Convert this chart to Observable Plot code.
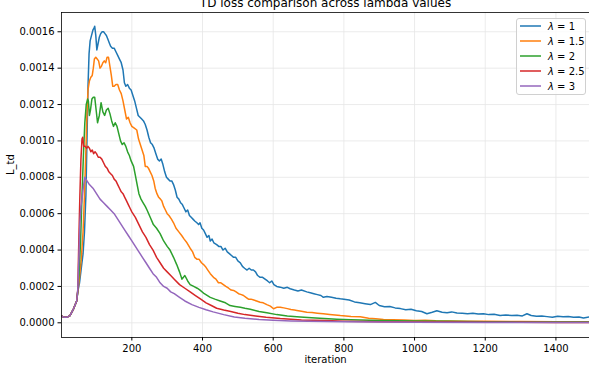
<!DOCTYPE html>
<html>
<head>
<meta charset="utf-8">
<script src="https://cdn.jsdelivr.net/npm/d3@7"></script>
<script src="https://cdn.jsdelivr.net/npm/@observablehq/plot@0.6"></script>
<style>
  html, body { margin: 0; padding: 0; background: #fff; }
  #wrap { position: relative; width: 589px; height: 378px; overflow: hidden; font-family: "DejaVu Sans", sans-serif; }
  #legend { position: absolute; left: 516px; top: 18px; width: 70px; height: 77px; box-sizing: border-box;
    border: 1px solid #d0d0d0; border-radius: 3px; background: rgba(255,255,255,0.8); font-size: 10px; color: #000; }
  .item { position: absolute; left: 3px; height: 12px; display: flex; align-items: center; white-space: nowrap; }
  .swatch { flex: 0 0 21px; width: 21px; height: 4px; margin-right: 7px; display: block; }
  .lam { font-style: italic; }
</style>
</head>
<body>
<div id="wrap"><div id="legend"></div></div>
<script>
const titleText = "TD loss comparison across lambda values";
const xLabel = "iteration";
const yLabel = "L_td";
const lambdas = ["1", "1.5", "2", "2.5", "3"];
const colors = ["#1f77b4", "#ff7f0e", "#2ca02c", "#d62728", "#9467bd"];
const xTicks = [200, 400, 600, 800, 1000, 1200, 1400];
const yTicks = [0, 0.0002, 0.0004, 0.0006, 0.0008, 0.001, 0.0012, 0.0014, 0.0016];

// shared warm-up segment (identical for all runs)
const startPoints = [[2,0.000036],[8,0.000031],[16,0.00003],[25,0.00004],[35,0.000077],[44,0.00012]];

const lambda1 = [[47,0.00017],[52,0.00022],[57,0.0003],[62,0.00038],[66,0.0005],[70,0.0007],[73,0.001],[76,0.0013],[79,0.00148],[82,0.00155],[86,0.00158],[90,0.00161],[93,0.00162],[95,0.00163],[98,0.00158],[101,0.0015],[104,0.00153],[108,0.00157],[112,0.00159],[116,0.0016],[120,0.0016],[124,0.00159],[128,0.00158],[132,0.00156],[136,0.00154],[140,0.00152],[145,0.00151],[150,0.00151],[155,0.00149],[160,0.00147],[165,0.00145],[170,0.00143],[175,0.00139],[179,0.00132],[183,0.0013],[188,0.00131],[193,0.00129],[198,0.00128],[203,0.00125],[208,0.00122],[213,0.00118],[218,0.00114],[223,0.00113],[228,0.00112],[233,0.00111],[238,0.00109],[243,0.00106],[248,0.00102],[253,0.00099],[258,0.00098],[263,0.00096],[268,0.00093],[273,0.0009],[278,0.00089],[283,0.0009],[288,0.00087],[293,0.00083],[298,0.0008],[303,0.00079],[308,0.00078],[313,0.00078],[318,0.00076],[323,0.00073],[328,0.00069],[333,0.00068],[338,0.00066],[343,0.00065],[348,0.00063],[353,0.00061],[358,0.00062],[363,0.00059],[368,0.00058],[373,0.00057],[378,0.00056],[384,0.00055],[389,0.00054],[393,0.00055],[398,0.00052],[403,0.00051],[408,0.00049],[413,0.00047],[418,0.00048],[422,0.00045],[427,0.00046],[432,0.00044],[440,0.00043],[446,0.00042],[452,0.00042],[458,0.0004],[464,0.00041],[470,0.00039],[476,0.00038],[482,0.00037],[488,0.00036],[494,0.00036],[500,0.00034],[507,0.00033],[513,0.00031],[519,0.0003],[526,0.00029],[532,0.0003],[538,0.00029],[544,0.00029],[550,0.00028],[556,0.00026],[563,0.00025],[570,0.00025],[577,0.00024],[584,0.00023],[590,0.00022],[596,0.00023],[602,0.00021],[610,0.0002],[620,0.000196],[630,0.00019],[640,0.000195],[648,0.000187],[660,0.00018],[670,0.000175],[680,0.00018],[695,0.00017],[705,0.000165],[715,0.00016],[725,0.000155],[735,0.00015],[742,0.00014],[752,0.000145],[765,0.00014],[778,0.000135],[790,0.000132],[800,0.00013],[815,0.000125],[830,0.000115],[845,0.00011],[860,0.000105],[875,0.0001],[889,0.000112],[900,0.000095],[915,0.000088],[930,0.00009],[945,0.000082],[960,0.000078],[975,0.000072],[990,0.000075],[1005,0.000066],[1020,0.000062],[1035,0.00005],[1050,0.000058],[1063,0.000066],[1078,0.000058],[1092,0.000055],[1105,0.00006],[1120,0.000054],[1135,0.000052],[1150,0.00005],[1165,0.000053],[1180,0.000048],[1195,0.00005],[1210,0.000045],[1225,0.000047],[1242,0.00004],[1258,0.000043],[1275,0.00004],[1290,0.000042],[1305,0.000038],[1318,0.00005],[1330,0.00004],[1345,0.000036],[1360,0.000038],[1375,0.000034],[1390,0.00003],[1405,0.000036],[1420,0.000033],[1435,0.000035],[1450,0.00003],[1465,0.000032],[1478,0.000027],[1495,0.000033]];

const lambda15 = [[47,0.00017],[52,0.00025],[57,0.00035],[62,0.0005],[66,0.0007],[70,0.00095],[73,0.00115],[76,0.00128],[80,0.00133],[84,0.00135],[88,0.00136],[91,0.0014],[94,0.00145],[98,0.00146],[102,0.00145],[106,0.00144],[110,0.0014],[114,0.00141],[118,0.00143],[122,0.00144],[126,0.00143],[130,0.00146],[134,0.00146],[138,0.00141],[142,0.00136],[146,0.0013],[150,0.0013],[155,0.00131],[160,0.00131],[165,0.00128],[170,0.00126],[175,0.00122],[180,0.00117],[185,0.00112],[190,0.00113],[195,0.0011],[200,0.00108],[207,0.00107],[214,0.00106],[219,0.00101],[224,0.00098],[229,0.00095],[234,0.00092],[238,0.00086],[243,0.00086],[247,0.00085],[252,0.00083],[257,0.00081],[262,0.00078],[266,0.00074],[271,0.00071],[276,0.00069],[281,0.00068],[285,0.00067],[290,0.00064],[295,0.00062],[300,0.0006],[305,0.00059],[312,0.00057],[318,0.00055],[325,0.00052],[333,0.0005],[341,0.00048],[348,0.00046],[356,0.00044],[365,0.00041],[372,0.00039],[378,0.00036],[384,0.00035],[390,0.00035],[397,0.00033],[403,0.00032],[408,0.00031],[415,0.00029],[422,0.00027],[431,0.00025],[438,0.00024],[445,0.00022],[452,0.00022],[459,0.00021],[466,0.0002],[474,0.00019],[481,0.00018],[488,0.000178],[495,0.00017],[502,0.00016],[510,0.000155],[516,0.00015],[523,0.00014],[530,0.00013],[537,0.00013],[545,0.000125],[553,0.00012],[563,0.000113],[572,0.00011],[582,0.0001],[592,0.000092],[601,0.000077],[610,0.000085],[620,0.000086],[630,0.000082],[640,0.000078],[650,0.000073],[660,0.00007],[667,0.000068],[680,0.000064],[695,0.000058],[710,0.000056],[725,0.000053],[742,0.00005],[760,0.000046],[775,0.000043],[790,0.00004],[805,0.000038],[820,0.000035],[846,0.000033],[870,0.000025],[890,0.000022],[912,0.000018],[940,0.000017],[970,0.000015],[1000,0.000013],[1030,0.000014],[1060,0.000011],[1100,0.00001],[1150,0.000009],[1200,0.000008],[1300,0.000007],[1400,0.000006],[1495,0.000006]];

const lambda2 = [[47,0.00017],[51,0.00028],[55,0.00045],[59,0.0007],[63,0.00092],[67,0.0011],[71,0.0012],[75,0.00123],[77,0.00122],[80,0.00114],[83,0.00117],[87,0.00123],[91,0.00124],[95,0.00124],[99,0.00117],[103,0.0011],[108,0.00114],[113,0.00121],[118,0.00116],[123,0.00114],[128,0.00117],[133,0.00118],[138,0.00115],[143,0.00111],[148,0.00108],[153,0.0011],[158,0.00108],[163,0.00104],[168,0.001],[173,0.00098],[178,0.00099],[183,0.00097],[188,0.00094],[193,0.00092],[198,0.00089],[205,0.00086],[210,0.00081],[215,0.00076],[220,0.00071],[226,0.00068],[232,0.00066],[238,0.00064],[243,0.00062],[252,0.00058],[261,0.00054],[270,0.00052],[280,0.00049],[290,0.00045],[300,0.00042],[308,0.0004],[318,0.00036],[327,0.00032],[335,0.00028],[342,0.00024],[350,0.00026],[358,0.00023],[365,0.00021],[375,0.0002],[385,0.00019],[393,0.00018],[405,0.00016],[422,0.00014],[435,0.00013],[450,0.00012],[465,0.00011],[478,0.000095],[492,0.00009],[507,0.000085],[520,0.00008],[535,0.000075],[560,0.000062],[582,0.000055],[610,0.000045],[640,0.000038],[676,0.000032],[720,0.000026],[780,0.00002],[820,0.000017],[900,0.000013],[1000,0.00001],[1100,0.000008],[1200,0.000006],[1300,0.000005],[1495,0.000004]];

const lambda25 = [[47,0.00018],[50,0.00045],[53,0.0007],[56,0.0009],[59,0.00101],[61,0.00102],[64,0.00097],[68,0.00097],[72,0.00096],[76,0.00097],[80,0.00096],[84,0.00094],[88,0.00095],[92,0.00093],[96,0.00094],[100,0.00093],[105,0.00091],[110,0.00091],[115,0.0009],[120,0.00088],[125,0.00086],[130,0.00085],[135,0.00083],[140,0.00082],[145,0.00081],[150,0.00079],[155,0.00078],[160,0.00076],[165,0.00074],[170,0.00072],[175,0.00071],[180,0.00069],[185,0.00067],[190,0.00065],[195,0.00063],[200,0.00061],[210,0.00058],[220,0.00054],[230,0.0005],[240,0.00047],[250,0.00043],[260,0.0004],[270,0.00036],[280,0.00033],[290,0.0003],[300,0.00028],[310,0.00026],[320,0.00024],[335,0.00021],[350,0.00019],[365,0.00017],[380,0.00015],[395,0.00013],[410,0.00011],[425,0.000095],[440,0.00008],[460,0.00007],[480,0.000062],[500,0.000052],[520,0.000045],[550,0.000037],[580,0.00003],[620,0.000023],[680,0.000016],[750,0.000012],[800,0.000009],[900,0.000006],[1000,0.000005],[1100,0.000004],[1200,0.000003],[1300,0.000003],[1400,0.000002],[1495,0.000002]];

const lambda3 = [[47,0.00018],[50,0.00035],[53,0.00055],[56,0.00064],[59,0.00068],[63,0.00075],[67,0.0008],[70,0.00079],[80,0.00076],[90,0.00074],[100,0.00071],[110,0.00068],[120,0.00066],[130,0.00064],[140,0.00062],[150,0.0006],[160,0.00057],[170,0.00054],[180,0.00051],[190,0.00048],[200,0.00045],[210,0.00042],[220,0.00039],[230,0.00036],[240,0.00033],[250,0.0003],[260,0.00027],[270,0.00025],[280,0.00022],[290,0.0002],[300,0.00019],[310,0.00017],[320,0.00016],[335,0.00014],[350,0.00012],[370,0.0001],[390,0.000085],[410,0.000072],[430,0.00006],[460,0.000045],[490,0.000032],[520,0.000025],[560,0.000018],[600,0.000014],[650,0.00001],[700,0.000008],[800,0.000006],[900,0.000004],[1000,0.000003],[1200,0.000002],[1495,0.000002]];

const seriesPoints = [lambda1, lambda15, lambda2, lambda25, lambda3];
const rows = [];
seriesPoints.forEach((pts, i) => {
  startPoints.concat(pts).forEach(([it, v]) => rows.push({iteration: it, loss: v, lambda: lambdas[i]}));
});

const chart = Plot.plot({
  width: 589,
  height: 378,
  marginLeft: 61,
  marginRight: 0,
  marginTop: 12,
  marginBottom: 41,
  style: {fontFamily: "DejaVu Sans, sans-serif", fontSize: "10px", color: "#000", background: "#fff", overflow: "visible"},
  x: {domain: [1, 1495]},
  y: {domain: [-0.0000808, 0.001706]},
  color: {domain: lambdas, range: colors},
  marks: [
    Plot.gridX(xTicks, {stroke: "#e6e6e6", strokeOpacity: 1, strokeWidth: 0.8}),
    Plot.gridY(yTicks, {stroke: "#e6e6e6", strokeOpacity: 1, strokeWidth: 0.8}),
    Plot.line(rows, {x: "iteration", y: "loss", z: "lambda", stroke: "lambda", strokeWidth: 1.5, clip: true}),
    Plot.ruleX([1], {stroke: "#000", strokeWidth: 0.8}),
    Plot.ruleY([-0.0000808, 0.001706], {stroke: "#000", strokeWidth: 0.8}),
    Plot.axisX(xTicks, {tickSize: 3.5, tickPadding: 3.5, label: null, fontSize: 10, tickFormat: d3.format("d")}),
    Plot.axisY(yTicks, {tickSize: 3.5, tickPadding: 3.5, label: null, tickFormat: d3.format(".4f"), fontSize: 10}),
    Plot.text([xLabel], {frameAnchor: "bottom", dy: 25, fontSize: 10}),
    Plot.text([yLabel], {frameAnchor: "left", dx: -51, rotate: -90, fontSize: 10}),
    Plot.text([titleText], {frameAnchor: "top", dy: -14, fontSize: 12})
  ]
});
document.getElementById("wrap").prepend(chart);

const legend = document.getElementById("legend");
lambdas.forEach((l, i) => {
  const item = document.createElement("div");
  item.className = "item";
  item.style.top = (1 + i * 15) + "px";
  item.innerHTML = `<svg class="swatch" width="21" height="4"><line x1="0" x2="21" y1="2" y2="2" stroke="${colors[i]}" stroke-width="1.5"></line></svg><span><span class="lam">λ</span> = ${l}</span>`;
  legend.appendChild(item);
});
</script>
</body>
</html>
